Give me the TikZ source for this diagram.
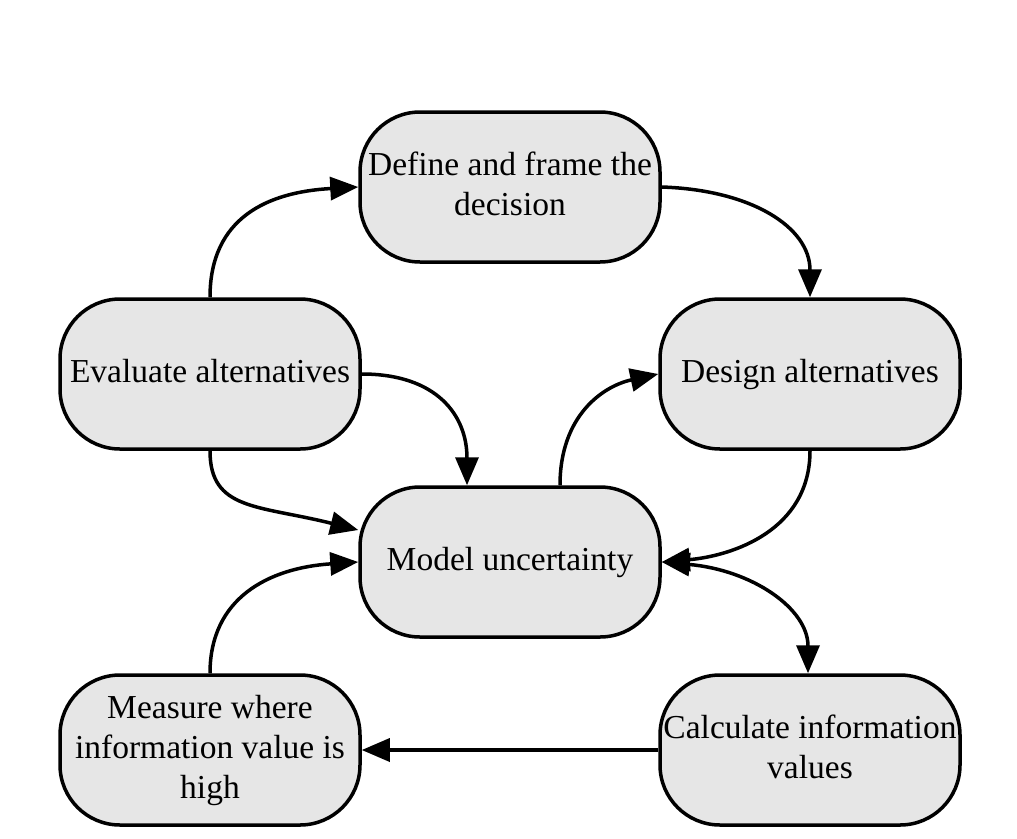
\documentclass[tikz,border=0pt]{standalone}
\usepackage{fontspec}
\setmainfont{Liberation Serif}
\usetikzlibrary{arrows.meta,calc}
\definecolor{boxfill}{HTML}{E6E6E6}
\tikzset{
  stepbox/.style={draw=black, line width=3.5pt, fill=boxfill, rounded corners=60pt,
    minimum width=300pt, minimum height=150pt, inner sep=0pt, align=center,
    font=\fontsize{33.5}{40}\selectfont},
  conn/.style={line width=3.5pt, -{Triangle[length=28pt,width=23pt]}},
  biconn/.style={line width=3.5pt, {Triangle[length=28pt,width=23pt]}-{Triangle[length=28pt,width=23pt]}}
}
\begin{document}
\begin{tikzpicture}[x=1pt,y=-1pt]
\useasboundingbox (0,0) rectangle (1017,838);
\node[stepbox] (def) at (510,187) {\strut Define and frame the\\\strut decision};
\node[stepbox] (eval) at (210,374) {\strut Evaluate alternatives};
\node[stepbox] (des) at (810,374) {\strut Design alternatives};
\node[stepbox] (model) at (510,562) {\strut Model uncertainty};
\node[stepbox] (meas) at (210,750) {\strut Measure where\\\strut information value is\\\strut high};
\node[stepbox] (calc) at (810,750) {\hspace*{-8pt}\strut Calculate information\hspace*{-8pt}\\\strut values};
% connectors
\draw[conn] (eval.north) .. controls +(0,-80) and +(-90,5) .. (def.west);
\draw[conn] (def.east) .. controls +(90,3) and +(0,-70) .. (des.north);
\draw[conn] (eval.east) .. controls +(75,0) and +(0,-70) .. ([xshift=-43pt]model.north);
\draw[conn] ([xshift=50pt]model.north) .. controls +(0,-70) and +(-55,12) .. (des.west);
\draw[conn] (eval.south) .. controls +(0,60) and +(-100,-25) .. ([yshift=32pt]model.west);
\draw[conn] (meas.north) .. controls +(0,-75) and +(-90,6) .. (model.west);
\draw[conn] (des.south) .. controls +(0,80) and +(70,-6) .. (model.east);
\draw[biconn] (model.east) .. controls +(90,8) and +(0,-65) .. ([xshift=-2pt]calc.north);
\draw[conn] (calc.west) -- (meas.east);
\end{tikzpicture}
\end{document}
